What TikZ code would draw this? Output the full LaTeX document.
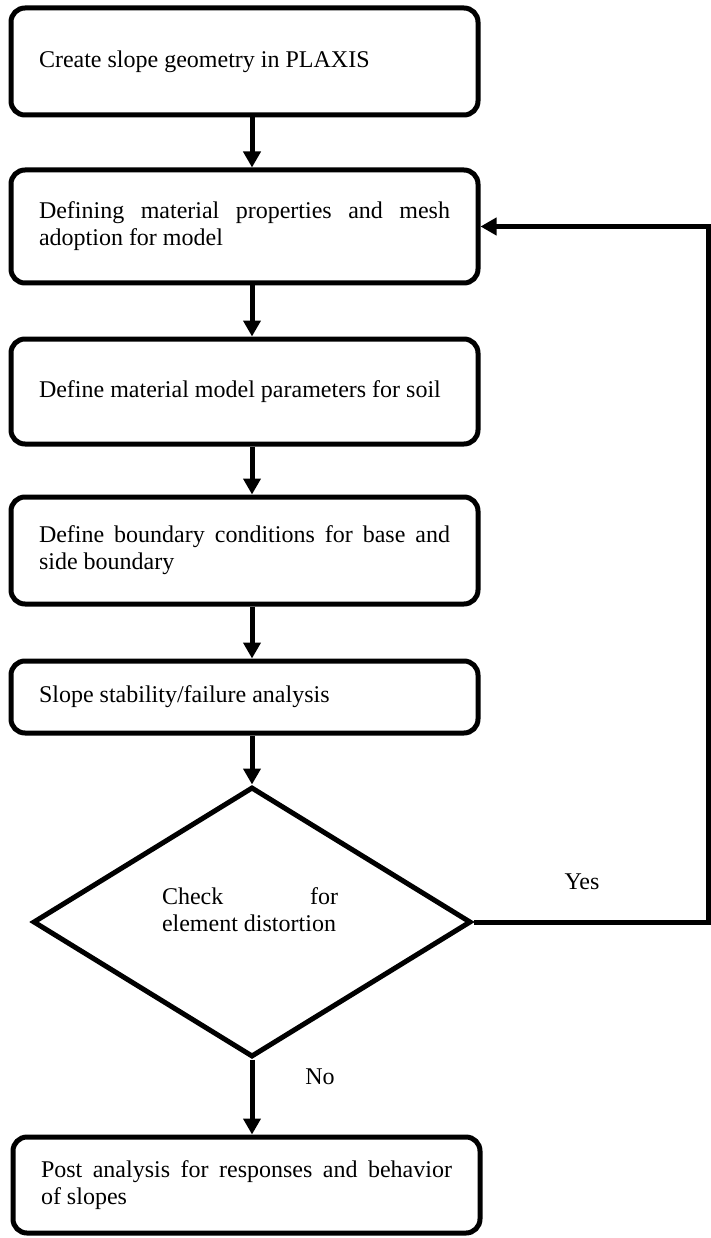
\documentclass[tikz,border=0pt]{standalone}
\usepackage{fontspec}
\setmainfont{Liberation Serif}
\usetikzlibrary{shapes.geometric,arrows.meta}
\begin{document}
\begin{tikzpicture}[x=1pt,y=-1pt,
  proc/.style={draw,line width=5pt,rounded corners=14pt,minimum width=467pt,inner sep=0pt,
    font=\fontsize{24}{27}\selectfont},
  decis/.style={draw,diamond,line width=5pt,minimum width=438pt,minimum height=270pt,inner sep=0pt},
  txt/.style={inner sep=0pt,font=\fontsize{24}{27}\selectfont},
  conn/.style={line width=5pt,-{Triangle[width=17pt,length=16pt]}},
  plain/.style={line width=5pt}]
\useasboundingbox (0,0) rectangle (711,1238);
\coordinate (ax) at (252,0);
\node[proc,minimum height=107pt] (b1) at (244.5,61.5) {\parbox{411pt}{Create slope geometry in PLAXIS}};
\node[proc,minimum height=113pt] (b2) at (244.5,226.5) {\parbox{411pt}{Defining material properties and mesh\linebreak adoption for model}};
\node[proc,minimum height=105pt] (b3) at (244.5,391.5) {\parbox{411pt}{Define material model parameters for soil}};
\node[proc,minimum height=107pt] (b4) at (244.5,550.5) {\parbox{411pt}{Define boundary conditions for base and\linebreak side boundary}};
\node[proc,minimum height=72pt] (b5) at (244.5,697) {\parbox{411pt}{Slope stability/failure analysis}};
\node[decis] (d) at (252,922) {};
\node[txt] (dt) at (250,910) {\parbox{176pt}{Check\hfill for\\element distortion}};
\node[proc,minimum height=96pt] (b6) at (246.5,1185) {\parbox{411pt}{Post analysis for responses and behavior\linebreak of slopes}};
\node[txt] (yes) at (582,882) {Yes};
\node[txt] (no) at (320,1077) {No};
\coordinate (fb) at (708,922);
\draw[conn] (b1.south -| ax) -- (b2.north -| ax);
\draw[conn] (b2.south -| ax) -- (b3.north -| ax);
\draw[conn] (b3.south -| ax) -- (b4.north -| ax);
\draw[conn] (b4.south -| ax) -- (b5.north -| ax);
\draw[conn] (b5.south -| ax) -- (d.north);
\draw[conn] (d.south) -- (b6.north -| ax);
\draw[conn] (d.east) -- (fb) |- (b2.east);
\end{tikzpicture}
\end{document}
